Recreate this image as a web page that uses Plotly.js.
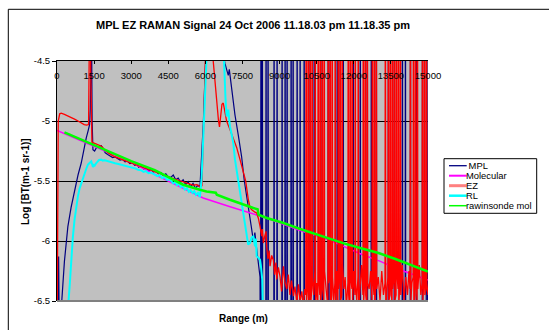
<!DOCTYPE html>
<html><head><meta charset="utf-8">
<script src="https://cdn.plot.ly/plotly-3.0.1.min.js"></script>
<style>html,body{margin:0;padding:0;background:#fff;}#chart{width:549px;height:330px;}</style>
</head><body><div id="chart"></div>
<script>
// ---- Data (range in m, log backscatter) ----
const seriesNames = ['\u00a0MPL', 'Molecular', 'EZ', 'RL', 'rawinsonde mol'];
const xTickValues = [0, 1500, 3000, 4500, 6000, 7500, 9000, 10500, 12000, 13500, 15000];
const xTickLabels = ['0', '1500', '3000', '4500', '6000', '7500', '9000', '10500', '12000', '13500', '15000'];
const yTickValues = [-6.5, -6, -5.5, -5, -4.5];
const yTickLabels = ['-6.5', '-6', '-5.5', '-5', '-4.5'];

const mplRange = [0,25,45,65,90,130,196,300,439,570,709,850,980,1080,1183,1260,1318,1345,1365,1395,1420,1453,1520,1600,1700,1790,1850,1950,2050,2150,2250,2350,2450,2550,2650,2750,2850,2950,3050,3150,3250,3300,3400,3500,3600,3700,3800,3900,4000,4100,4200,4300,4400,4500,4600,4700,4800,4900,5000,5100,5200,5300,5400,5500,5600,5700,5780,5850,5920,5990,6050,6650,6722,6790,6857,6925,6966,7060,7128,7196,7331,7466,7574,7669,7736,7804,7870,7939,8000,8074,8140,8209,8225,8250,8275,8300,8320,
8438,8453,8468,8519,8534,8549,8762,8777,8792,8884,8899,8914,9086,9101,9116,9208,9223,9238,9289,9304,9319,9451,9466,9481,9532,9547,9562,9694,9709,9724,9816,9831,9846,9978,9993,10008,10221,10236,10251,10383,10398,10413,10708,10723,10738,10951,10966,10981,11032,11047,11062,11316,11331,11346,11437,11452,11467,11559,11574,11589,11964,11979,11994,12248,12263,12278,12532,12547,12562,12694,12709,12724,12897,12912,12927,13384,13399,13414,13627,13642,13657,13951,13966,13981,14073,14088,14103,14276,14291,14306,14519,14534,14549,14762,14777,14792,14924,14939,14954,15000];
const mplSignal = [-8,-6.4,-6.65,-6.13,-6.7,-6.55,-6.49,-6.17,-5.88,-5.72,-5.57,-5.45,-5.35,-5.24,-5.14,-5.08,-5.03,-4.9,-4.2,-4.2,-5.0,-5.24,-5.25,-5.22,-5.21,-5.205,-5.225,-5.265,-5.28,-5.29,-5.305,-5.3,-5.315,-5.325,-5.32,-5.34,-5.335,-5.355,-5.35,-5.37,-5.365,-5.385,-5.375,-5.4,-5.39,-5.415,-5.4,-5.425,-5.415,-5.44,-5.43,-5.455,-5.44,-5.465,-5.47,-5.45,-5.49,-5.475,-5.51,-5.49,-5.53,-5.505,-5.55,-5.52,-5.56,-5.535,-5.55,-5.3,-5.0,-4.6,-4.3,-4.3,-4.45,-4.52,-4.58,-4.62,-4.57,-4.72,-4.85,-4.95,-5.12,-5.3,-5.5,-5.62,-5.7,-5.78,-5.9,-6.0,-5.93,-6.07,-6.2,-6.3,-8,-3,-8,-3,-8,
-8,-3,-8,-8,-3,-8,-8,-3,-8,-8,-3,-8,-8,-3,-8,-8,-3,-8,-8,-3,-8,-8,-3,-8,-8,-3,-8,-8,-3,-8,-8,-3,-8,-8,-3,-8,-8,-3,-8,-8,-3,-8,-8,-3,-8,-8,-3,-8,-8,-3,-8,-8,-3,-8,-8,-3,-8,-8,-3,-8,-8,-3,-8,-8,-3,-8,-8,-3,-8,-8,-3,-8,-8,-3,-8,-8,-3,-8,-8,-3,-8,-8,-3,-8,-8,-3,-8,-8,-3,-8,-8,-3,-8,-8,-3,-8,-8,-3,-8,-8];

const molRange = [0,1000,2000,2600,3000,4000,4289,5000,5911,7000,7804,8500,9155,9831,10980,12332,13075,13682,15000];
const molSignal = [-5.078,-5.165,-5.252,-5.305,-5.345,-5.45,-5.48,-5.55,-5.642,-5.715,-5.767,-5.81,-5.86,-5.912,-5.99,-6.112,-6.17,-6.225,-6.326];

const ezRange = [0,25,50,110,169,300,439,570,709,850,980,1100,1200,1277,1300,1310,1350,1365,1400,1413,1500,1655,1800,1926,2100,2300,2601,2800,3000,3250,3500,3750,4000,4250,4500,4750,5000,5169,5350,5500,5650,5800,5860,5900,5960,6020,6290,6316,6384,6452,6530,6570,6620,6670,6722,6790,6857,6993,7128,7263,7398,7533,7628,7736,7804,7872,7939,8006,8074,8141,8209,8250,8277,8300,8344,8400,8450,8479,8530,8580,8614,8680,8750,8800,8850,8885,8950,9020,9080,9155,9220,9290,9350,9420,9480,9560,9620,9700,9760,9831,9900,9960,10020,
10059,10074,10089,10140,10155,10170,10221,10236,10251,10302,10317,10332,10380,10424,10439,10454,10500,10546,10561,10576,10627,10642,10657,10708,10723,10738,10789,10804,10819,10880,10951,10966,10981,11032,11047,11062,11113,11128,11143,11190,11235,11250,11265,11310,11356,11371,11386,11437,11452,11467,11518,11533,11548,11600,11650,11700,11762,11777,11792,11843,11858,11873,11924,11939,11954,12000,12045,12060,12075,12120,12167,12182,12197,12250,12310,12370,12385,12400,12451,12466,12481,12532,12547,12562,12620,12680,12735,12750,12765,12816,12831,12846,12897,12912,12927,12990,13060,13130,13200,13262,13277,13292,13340,13384,13399,13414,13465,13480,13495,13546,13561,13576,13627,13642,13657,13708,13723,13738,13789,13804,13819,13870,13885,13900,13960,14030,14100,14170,14230,14276,14291,14306,14350,14397,14412,14427,14478,14493,14508,14559,14574,14589,14650,14710,14762,14777,14792,14843,14858,14873,14924,14939,14954,15000];
const ezSignal = [-7,-5.3,-5.0,-4.94,-4.935,-4.945,-4.957,-4.97,-4.984,-5.0,-5.017,-5.03,-5.035,-5.03,-4.5,-4.2,-4.2,-4.6,-5.15,-5.178,-5.185,-5.198,-5.21,-5.239,-5.27,-5.295,-5.322,-5.335,-5.35,-5.37,-5.39,-5.41,-5.43,-5.45,-5.47,-5.485,-5.5,-5.51,-5.52,-5.535,-5.53,-5.55,-5.54,-5.3,-4.8,-4.3,-4.3,-4.5,-4.68,-4.85,-5.0,-5.05,-4.95,-4.86,-4.85,-4.92,-5.0,-5.07,-5.14,-5.22,-5.32,-5.43,-5.5,-5.656,-5.72,-5.74,-5.753,-5.76,-5.767,-5.81,-5.878,-5.93,-5.96,-5.9,-6.017,-5.96,-5.92,-6.05,-6.15,-6.08,-6.21,-6.12,-6.16,-6.28,-6.18,-6.32,-6.22,-6.3,-6.42,-6.21,-6.35,-6.4,-6.28,-6.45,-6.33,-6.46,-6.38,-6.52,-6.36,-6.5,-6.42,-6.55,-6.4,
-6.45,-3,-6.5,-6.35,-3,-6.6,-6.3,-3,-6.55,-6.4,-3,-6.3,-6.45,-6.25,-3,-6.5,-6.35,-6.6,-3,-6.3,-6.45,-3,-6.55,-6.3,-3,-6.4,-6.5,-3,-6.25,-6.4,-6.55,-3,-6.35,-6.3,-3,-6.6,-6.45,-3,-6.3,-6.5,-6.35,-3,-6.5,-6.25,-6.6,-3,-6.4,-6.3,-3,-6.5,-6.45,-3,-6.2,-6.4,-6.3,-6.55,-6.35,-3,-6.45,-6.6,-3,-6.3,-6.4,-3,-6.5,-6.25,-6.45,-3,-6.35,-6.5,-6.3,-3,-6.6,-6.4,-6.2,-6.45,-3,-6.5,-6.3,-3,-6.45,-6.55,-3,-6.35,-6.4,-6.25,-6.5,-3,-6.3,-6.45,-3,-6.55,-6.35,-3,-6.4,-6.3,-6.5,-6.25,-6.45,-6.35,-3,-6.6,-6.4,-6.3,-3,-6.5,-6.45,-3,-6.3,-6.55,-3,-6.4,-6.3,-3,-6.5,-6.45,-3,-6.25,-6.4,-3,-6.55,-6.3,-3,-6.45,-6.2,-6.5,-6.3,-6.45,-6.25,-6.4,-3,-6.5,-6.35,-6.3,-3,-6.55,-6.45,-3,-6.3,-6.5,-3,-6.4,-6.2,-6.45,-6.35,-3,-6.5,-6.3,-3,-6.45,-6.4,-3,-6.35,-6.45];

const rlRange = [430,466,520,574,640,709,780,845,910,980,1050,1115,1180,1250,1320,1385,1420,1453,1500,1530,1588,1650,1700,1790,1850,1930,2061,2200,2350,2480,2601,2750,2900,3050,3150,3277,3400,3500,3600,3700,3800,3953,4050,4150,4250,4350,4450,4550,4629,4700,4780,4850,4930,5000,5080,5169,5250,5330,5400,5480,5550,5620,5700,5777,5844,5912,5980,6047,6100,6700,6763,6810,6857,6890,6925,6960,6993,7060,7128,7196,7260,7330,7400,7466,7530,7601,7680,7730,7804,7870,7939,7970,8006,8040,8074,8140,8209,8240,8277,8298,8330];
const rlSignal = [-7,-6.5,-6.35,-6.128,-5.97,-5.822,-5.71,-5.628,-5.565,-5.517,-5.47,-5.433,-5.4,-5.364,-5.345,-5.336,-5.36,-5.384,-5.36,-5.37,-5.35,-5.335,-5.325,-5.322,-5.33,-5.327,-5.336,-5.345,-5.352,-5.358,-5.364,-5.375,-5.38,-5.39,-5.395,-5.406,-5.41,-5.425,-5.418,-5.435,-5.43,-5.447,-5.46,-5.452,-5.475,-5.468,-5.49,-5.485,-5.503,-5.52,-5.505,-5.535,-5.52,-5.55,-5.54,-5.572,-5.56,-5.59,-5.575,-5.6,-5.585,-5.615,-5.6,-5.635,-5.489,-5.183,-4.767,-4.45,-4.2,-4.2,-4.628,-4.8,-4.962,-4.93,-4.906,-4.98,-5.045,-5.11,-5.183,-5.322,-5.42,-5.5,-5.59,-5.68,-5.77,-5.85,-6.0,-6.03,-6.017,-5.97,-5.962,-6.0,-6.045,-5.98,-6.128,-6.14,-6.156,-6.2,-6.267,-6.32,-6.7];

const sondeRange = [300,1000,2000,2601,3000,3953,4500,5100,5777,6047,6420,6460,6993,7533,7939,8110,8150,8480,9155,9831,10500,10980,11600,12332,13000,13682,14300,15000];
const sondeSignal = [-5.095,-5.157,-5.245,-5.295,-5.335,-5.41,-5.465,-5.531,-5.573,-5.587,-5.598,-5.614,-5.656,-5.698,-5.725,-5.735,-5.781,-5.808,-5.85,-5.9,-5.945,-5.975,-6.02,-6.062,-6.1,-6.15,-6.2,-6.255];

// ---- Styles ----
const lineColors = ['#000080', '#FF00FF', '#FF0000', '#00FFFF', '#00FF00'];
const legendColors = ['#000080', '#FF00FF', '#FF8080', '#00FFFF', '#00FF00'];
const lineWidths = [1.2, 1.5, 1.3, 2, 2.5];
const legendWidths = [1.3, 2, 3, 2.5, 1.5];
const FONT = 'Liberation Sans, Arial, sans-serif';

const xs = [mplRange, molRange, ezRange, rlRange, sondeRange];
const ys = [mplSignal, molSignal, ezSignal, rlSignal, sondeSignal];
// the last series is drawn on the overlaid top axis (same range) so that the range labels sit inside the plot
const traces = seriesNames.map((n, i) => ({
  type: 'scatter', mode: 'lines', name: n, x: xs[i], y: ys[i], xaxis: i === 4 ? 'x2' : 'x',
  line: {color: lineColors[i], width: lineWidths[i]}, showlegend: false, hoverinfo: 'skip'
}));

// plot area: 57..428 px horizontally, 61..301 px vertically
const L = 57, R = 428, T = 61, B = 301, W = 549, H = 330;
const px = v => (v - L) / (R - L);
const py = v => (B - v) / (B - T);

const shapes = [
  {type: 'rect', xref: 'paper', yref: 'paper', x0: px(8.3), x1: px(600), y0: py(360), y1: py(9.3), line: {color: '#000', width: 1}, fillcolor: 'rgba(0,0,0,0)', layer: 'below'},
  {type: 'line', xref: 'paper', yref: 'paper', x0: 0, x1: 1, y0: 0, y1: 0, line: {color: '#808080', width: 2}, layer: 'above'},
  {type: 'rect', xref: 'paper', yref: 'paper', x0: px(444), x1: px(536.7), y0: py(213.3), y1: py(158.7), line: {color: '#000', width: 1}, fillcolor: '#fff'}
];
const annotations = [
  {xref: 'paper', yref: 'paper', x: px(243), y: py(318.3), text: '<b>Range (m)</b>', showarrow: false, xanchor: 'center', yanchor: 'middle', font: {family: FONT, size: 10, color: '#000'}},
  {xref: 'paper', yref: 'paper', x: px(25), y: py(182), text: '<b>Log [BT(m-1 sr-1)]</b>', textangle: -90, showarrow: false, xanchor: 'center', yanchor: 'middle', font: {family: FONT, size: 10, color: '#000'}}
];
const rowY = [165.7, 175.7, 185.7, 195.7, 205.7];
seriesNames.forEach((n, i) => {
  shapes.push({type: 'line', xref: 'paper', yref: 'paper', x0: px(449), x1: px(466.7), y0: py(rowY[i]), y1: py(rowY[i]), line: {color: legendColors[i], width: legendWidths[i]}});
  annotations.push({xref: 'paper', yref: 'paper', x: px(464), y: py(rowY[i]), text: n, showarrow: false, xanchor: 'left', yanchor: 'middle', font: {family: FONT, size: 9.4, color: '#000'}});
});

const tickFont = {family: FONT, size: 9.5, color: '#000'};
const layout = {
  width: W, height: H,
  margin: {l: L, r: W - R, t: T, b: H - B, pad: 0},
  paper_bgcolor: '#fff', plot_bgcolor: '#C0C0C0',
  showlegend: false,
  title: {text: '<b>MPL EZ RAMAN Signal 24 Oct 2006 11.18.03 pm 11.18.35 pm</b>', font: {family: FONT, size: 11, color: '#000'},
          x: 253 / W, xref: 'container', xanchor: 'center', y: 1 - 25 / H, yref: 'container', yanchor: 'middle'},
  xaxis: {range: [0, 15000], side: 'top', tickmode: 'array', tickvals: xTickValues, ticks: 'inside', ticklen: 3, tickcolor: '#000',
          showticklabels: false, showline: true, linecolor: '#000', linewidth: 1,
          showgrid: false, zeroline: false, fixedrange: true},
  xaxis2: {overlaying: 'x', anchor: 'free', position: py(68), side: 'bottom', range: [0, 15000], tickmode: 'array',
           tickvals: xTickValues, ticktext: xTickLabels, ticks: '', tickfont: tickFont, showline: false,
           showgrid: false, zeroline: false, fixedrange: true},
  yaxis: {range: [-6.5, -4.5], tickmode: 'array', tickvals: yTickValues, ticktext: yTickLabels, ticks: 'outside', ticklen: 4, tickcolor: '#000',
          tickfont: tickFont, showline: true, linecolor: '#000', linewidth: 1,
          showgrid: true, gridcolor: '#000', gridwidth: 1, zeroline: false, fixedrange: true},
  shapes: shapes, annotations: annotations
};
Plotly.newPlot('chart', traces, layout, {displayModeBar: false, staticPlot: true});
</script></body></html>
